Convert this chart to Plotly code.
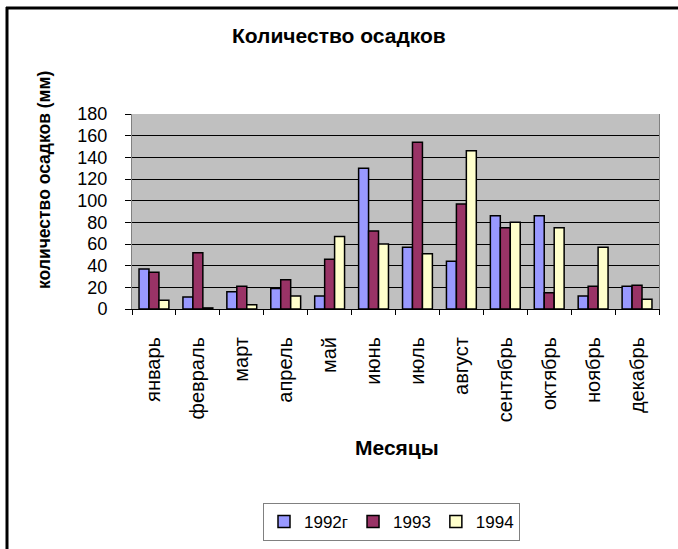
import plotly.graph_objects as go

months = ["январь", "февраль", "март", "апрель", "май", "июнь",
          "июль", "август", "сентябрь", "октябрь", "ноябрь", "декабрь"]
y1992 = [37, 11, 16, 19, 12, 130, 57, 44, 86, 86, 12, 21]
y1993 = [34, 52, 21, 27, 46, 72, 154, 97, 75, 15, 21, 22]
y1994 = [8, 1, 4, 12, 67, 60, 51, 146, 80, 75, 57, 9]

series = [("1992г", y1992, "#9999FF"), ("1993", y1993, "#993366"), ("1994", y1994, "#FFFFCC")]

W, H = 678, 549
L, R, T, B = 132, 659, 114, 309  # plot area in px
pw, ph = R - L, B - T

def px(x):
    return (x - L) / pw

def py(y):
    return (B - y) / ph

FONT = "Liberation Sans, Arial, sans-serif"

fig = go.Figure()
for name, vals, col in series:
    fig.add_trace(go.Bar(x=months, y=vals, name=name,
                         marker=dict(color=col, line=dict(color="black", width=1.5))))

fig.update_layout(
    width=W, height=H,
    margin=dict(l=L, r=W - R, t=T, b=H - B, autoexpand=False),
    paper_bgcolor="white", plot_bgcolor="#C0C0C0",
    barmode="group", bargap=0.32, bargroupgap=0,
    font=dict(family=FONT, color="black"),
    showlegend=True,
    legend=dict(orientation="h", x=px(263), xanchor="left", y=py(503), yanchor="top",
                bordercolor="#808080", borderwidth=1, font=dict(size=17),
                itemwidth=30, tracegroupgap=0),
    xaxis=dict(showline=True, linecolor="black", linewidth=1, ticks="outside",
               ticklen=5, tickcolor="black", tickson="boundaries", tickangle=-90,
               tickfont=dict(size=20), ticklabelstandoff=19, showgrid=False),
    yaxis=dict(range=[0, 180], dtick=20, showline=True, linecolor="#808080", mirror=True,
               ticks="outside", ticklen=6, tickcolor="black",
               gridcolor="black", gridwidth=1, tickfont=dict(size=18),
               ticklabelstandoff=14, zeroline=False),
    annotations=[
        dict(text="<b>Количество осадков</b>", x=px(339), y=py(35), xref="paper", yref="paper",
             showarrow=False, font=dict(size=21), xanchor="center", yanchor="middle"),
        dict(text="<b>Месяцы</b>", x=px(397), y=py(447), xref="paper", yref="paper",
             showarrow=False, font=dict(size=21), xanchor="center", yanchor="middle"),
        dict(text="<b>количество осадков (мм)</b>", x=px(44), y=py(180), xref="paper", yref="paper",
             showarrow=False, font=dict(size=17.5), textangle=-90, xanchor="center", yanchor="middle"),
    ],
    shapes=[
        dict(type="line", xref="paper", yref="paper", x0=px(6), x1=px(678), y0=py(8), y1=py(8),
             line=dict(color="black", width=3)),
        dict(type="line", xref="paper", yref="paper", x0=px(7), x1=px(7), y0=py(7), y1=py(549),
             line=dict(color="black", width=3)),
    ],
)

fig.write_html("out.html", config={"displayModeBar": False},
               post_script="document.body.style.margin='0';document.body.style.overflow='hidden';")
